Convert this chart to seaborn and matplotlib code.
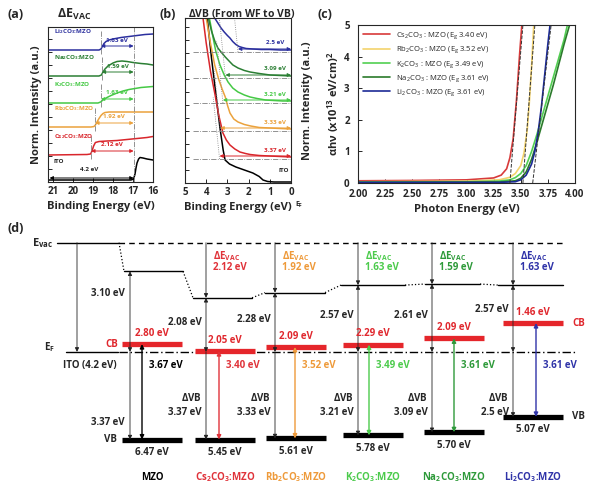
import pandas as pd
import matplotlib.pyplot as plt
import seaborn as sns

# ---------------- data ----------------
samples = ['Cs$_2$CO$_3$', 'Rb$_2$CO$_3$', 'K$_2$CO$_3$', 'Na$_2$CO$_3$', 'Li$_2$CO$_3$']
colors = ['#d9262c', '#eba23c', '#45c945', '#2b7f34', '#2b2f9e']
ito_wf = 4.2

# (a) secondary electron cut-off: binding energy (eV) / stacked intensity
a_ito_be = [21.25, 17.1, 16.97, 16.9, 16.85, 16.8, 16.72, 16.65, 16.5, 16.3, 16.0]
a_ito_int = [2, 2, 3, 8, 14, 19, 23, 24.5, 24, 23, 22]
a_cs_be = [21.25, 19.3, 19.12, 19.05, 18.97, 18.88, 18.7, 18.3, 17.8, 17.3, 16.8, 16.3, 16.0]
a_cs_int = [27, 27.5, 28, 31, 36, 39.5, 40.5, 41, 41.5, 42.5, 43.5, 44.5, 45.5]
a_rb_be = [21.25, 19.1, 18.95, 18.88, 18.8, 18.7, 18.6, 18.5, 18.4, 18.2, 17.8, 17.0, 16.0]
a_rb_int = [55, 55, 55.5, 57, 60, 63.5, 66.5, 68.5, 69.5, 70, 70, 70, 70]
a_k_be = [21.25, 18.75, 18.62, 18.5, 18.3, 18.1, 17.8, 17.5, 17.2, 16.9, 16.6, 16.3, 16.0]
a_k_int = [79, 79, 80, 82, 84.5, 86.5, 89, 91, 92.5, 93.5, 94.5, 95, 95.5]
a_na_be = [21.25, 18.7, 18.58, 18.5, 18.4, 18.25, 18.0, 17.8, 17.55, 17.3, 17.0, 16.6, 16.3, 16.0]
a_na_int = [106, 106, 107, 110, 113, 116, 119, 120.5, 121, 120.5, 119.5, 118.5, 118, 117]
a_li_be = [21.25, 18.7, 18.6, 18.52, 18.45, 18.35, 18.2, 18.0, 17.6, 17.2, 16.8, 16.4, 16.0]
a_li_int = [132, 132, 133, 136, 138.5, 140.5, 142, 143, 144.5, 145.5, 146.5, 147.5, 148]
a_dvac = [2.12, 1.92, 1.63, 1.59, 1.63]

# (b) valence band region: binding energy (eV) / stacked intensity
b_ito_be = [3.95, 3.75, 3.54, 3.35, 3.2, 3.11, 2.9, 2.6, 2.2, 1.8, 1.5, 1.32, 1.1, 0.8, 0.0]
b_ito_int = [165, 125, 88, 55, 33, 23, 19, 16, 13, 10, 6.5, 3, 1.5, 1, 1]
b_cs_be = [4.15, 4.0, 3.8, 3.58, 3.4, 3.21, 3.05, 2.88, 2.65, 2.41, 2.15, 1.93, 1.5, 1.0, 0.5, 0.0]
b_cs_int = [165, 140, 112, 88, 67, 50, 43, 38, 34, 31, 29.5, 28.5, 27.5, 27, 26.5, 26]
b_rb_be = [4.0, 3.8, 3.6, 3.4, 3.25, 3.1, 3.0, 2.88, 2.7, 2.5, 2.2, 1.9, 1.5, 1.0, 0.5, 0.0]
b_rb_int = [165, 140, 118, 103, 94, 86, 78, 70, 64, 61, 58.5, 57, 55.5, 55, 54.5, 54]
b_k_be = [3.85, 3.7, 3.55, 3.35, 3.15, 2.97, 2.75, 2.5, 2.2, 1.93, 1.6, 1.2, 0.8, 0.4, 0.0]
b_k_int = [165, 148, 132, 118, 108, 101, 95, 91, 88, 86, 84.5, 83, 82.5, 82, 82]
b_na_be = [3.9, 3.75, 3.58, 3.45, 3.3, 3.1, 2.9, 2.74, 2.5, 2.2, 1.93, 1.5, 0.99, 0.5, 0.0]
b_na_int = [165, 152, 141, 135, 131, 126, 121.5, 118, 115, 112.5, 111, 109.5, 108, 107.5, 107]
b_li_be = [3.6, 3.45, 3.3, 3.15, 3.0, 2.88, 2.75, 2.6, 2.45, 2.3, 2.12, 1.8, 1.4, 1.0, 0.5, 0.0]
b_li_int = [165, 160, 155, 151, 147.5, 145, 141.5, 138.5, 136.5, 135.5, 134.5, 134, 133.5, 133.5, 133, 133]
b_dvb = [3.37, 3.33, 3.21, 3.09, 2.5]

# (c) Tauc plot: photon energy (eV) / (alpha h nu)^2
c_cs_e = [2.0, 2.5, 3.0, 3.25, 3.32, 3.37, 3.40, 3.43, 3.46, 3.49, 3.51]
c_cs_v = [0.07, 0.08, 0.1, 0.16, 0.25, 0.45, 0.8, 1.4, 2.6, 4.1, 5.0]
c_rb_e = [2.0, 3.0, 3.3, 3.4, 3.45, 3.5, 3.53, 3.56, 3.58, 3.6, 3.62]
c_rb_v = [0.04, 0.06, 0.1, 0.18, 0.3, 0.55, 0.95, 1.7, 2.6, 3.7, 5.0]
c_k_e = [2.0, 3.0, 3.3, 3.4, 3.45, 3.5, 3.55, 3.6, 3.65, 3.7, 3.75, 3.8, 3.85, 3.9, 3.93]
c_k_v = [0.03, 0.04, 0.06, 0.1, 0.17, 0.3, 0.55, 1.0, 1.55, 2.15, 2.75, 3.35, 3.95, 4.55, 5.0]
c_na_e = [2.0, 3.3, 3.45, 3.5, 3.55, 3.6, 3.65, 3.7, 3.75, 3.8, 3.85, 3.9, 3.95]
c_na_v = [0.02, 0.03, 0.07, 0.15, 0.35, 0.75, 1.3, 1.9, 2.5, 3.1, 3.75, 4.4, 5.0]
c_li_e = [2.0, 3.3, 3.45, 3.5, 3.55, 3.6, 3.63, 3.66, 3.69, 3.72, 3.75, 3.77]
c_li_v = [0.02, 0.02, 0.04, 0.1, 0.25, 0.6, 1.0, 1.6, 2.4, 3.4, 4.4, 5.0]
c_eg = [3.40, 3.52, 3.49, 3.61, 3.61]
c_colors = ['#d83a3a', '#f3d36c', '#52cf52', '#2b7a2b', '#1c2a96']

# (d) energy level diagram (eV)
d_names = ['MZO'] + [s + ':MZO' for s in samples]
d_wf = [3.10, 2.08, 2.28, 2.57, 2.61, 2.57]
d_dvb = [3.37, 3.37, 3.33, 3.21, 3.09, 2.5]
d_eg = [3.67, 3.40, 3.52, 3.49, 3.61, 3.61]
d_vb = [6.47, 5.45, 5.61, 5.78, 5.70, 5.07]
d_cb = [2.80, 2.05, 2.09, 2.29, 2.09, 1.46]
d_colors = ['black', '#e0333a', '#ee9a3a', '#4ccb4c', '#2e9a3a', '#2f33a8']

# ---------------- style ----------------
sns.set_theme(style='ticks')
plt.rcParams['font.family'] = ['Open Sans', 'DejaVu Sans']
plt.rcParams['mathtext.default'] = 'regular'
plt.rcParams['axes.linewidth'] = 0.8

W, H = 596, 487
fig = plt.figure(figsize=(W / 100, H / 100), dpi=100)


def px_axes(x0, y0, x1, y1):
    return fig.add_axes([x0 / W, 1 - y1 / H, (x1 - x0) / W, (y1 - y0) / H])


def long_df(series):
    return pd.concat([pd.DataFrame({'x': x, 'y': y, 's': lab}) for lab, x, y in series],
                     ignore_index=True)


def style_ax(ax):
    ax.tick_params(direction='in', length=3, width=0.7, labelsize=7, pad=3)
    for lab in ax.get_xticklabels() + ax.get_yticklabels():
        lab.set_fontweight('bold')


bold = dict(fontweight='bold')

# ---------------- (a) ----------------
axa = px_axes(48, 27, 153, 182)
a_names = ['ITO'] + samples
dfa = long_df(zip(a_names,
                  [a_ito_be, a_cs_be, a_rb_be, a_k_be, a_na_be, a_li_be],
                  [a_ito_int, a_cs_int, a_rb_int, a_k_int, a_na_int, a_li_int]))
sns.lineplot(data=dfa, x='x', y='y', hue='s', hue_order=a_names,
             palette=['black'] + colors, estimator=None, sort=False,
             legend=False, lw=1.1, ax=axa)
axa.set_xlim(21.25, 16)
axa.set_ylim(0, 155)
axa.set_xticks([21, 20, 19, 18, 17, 16])
axa.set_yticks(range(0, 155, 13))
axa.tick_params(labelleft=False)
style_ax(axa)
axa.set_xlabel('Binding Energy (eV)', fontsize=8, labelpad=3, **bold)
axa.set_ylabel('Norm. Intensity (a.u.)', fontsize=8, labelpad=4, **bold)
cut = a_ito_be[2]
axa.axvline(cut, color='gray', ls='-.', lw=0.6)
axa.text(20.95, a_ito_int[0] + 17, 'ITO', fontsize=4.5, **bold)
axa.annotate('', xy=(cut, 4), xytext=(cut + ito_wf, 4),
             arrowprops=dict(arrowstyle='<|-|>', color='black', lw=0.7,
                             shrinkA=0, shrinkB=0, mutation_scale=5))
axa.text(19.2, 11, f'{ito_wf:g} eV', fontsize=4.5, ha='center', **bold)
for name, col, dv, ints in zip(samples, colors, a_dvac,
                                [a_cs_int, a_rb_int, a_k_int, a_na_int, a_li_int]):
    base = ints[0]
    on = cut + dv
    axa.plot([on, on], [base - 4, base + 20], color='gray', ls='-.', lw=0.6)
    axa.annotate('', xy=(cut, base + 4), xytext=(on, base + 4),
                 arrowprops=dict(arrowstyle='<|-|>', color=col, lw=0.7,
                                 shrinkA=0, shrinkB=0, mutation_scale=5))
    axa.text((on + cut) / 2, base + 10, f'{dv:.2f} eV', color=col, fontsize=4.5,
             ha='center', va='center', **bold)
    axa.text(20.95, base + 18, name + ':MZO', color=col, fontsize=4.5,
             va='center', **bold)

# ---------------- (b) ----------------
axb = px_axes(185, 18, 291, 183)
dfb = long_df(zip(a_names,
                  [b_ito_be, b_cs_be, b_rb_be, b_k_be, b_na_be, b_li_be],
                  [b_ito_int, b_cs_int, b_rb_int, b_k_int, b_na_int, b_li_int]))
sns.lineplot(data=dfb, x='x', y='y', hue='s', hue_order=a_names,
             palette=['black'] + colors, estimator=None, sort=False,
             legend=False, lw=1.1, ax=axb)
axb.set_xlim(5, 0)
axb.set_ylim(0, 165)
axb.set_xticks([5, 4, 3, 2, 1, 0])
axb.set_yticks(range(0, 165, 13))
axb.tick_params(labelleft=False)
style_ax(axb)
axb.set_xlabel('Binding Energy (eV)', fontsize=8, labelpad=3, **bold)
axb.yaxis.set_label_position('right')
axb.set_ylabel('Norm. Intensity (a.u.)', fontsize=8, labelpad=8, **bold)
axb.text(1.035, -0.13, 'E$_F$', transform=axb.transAxes, fontsize=5,
         va='center', **bold)
axb.text(0.1, b_ito_int[-1] + 10, 'ITO', fontsize=4.5, ha='right', **bold)
for col, dv, ints in zip(colors, b_dvb, [b_cs_int, b_rb_int, b_k_int, b_na_int, b_li_int]):
    base = ints[-1]
    axb.plot([4.6, 0], [base - 2, base - 2], color='gray', ls='-.', lw=0.6)
    axb.annotate('', xy=(0, base + 1), xytext=(dv, base + 1),
                 arrowprops=dict(arrowstyle='<|-|>', color=col, lw=0.7,
                                 shrinkA=0, shrinkB=0, mutation_scale=5))
    axb.plot([dv, dv + 0.3], [base - 2, base + 60], color='gray', ls=':', lw=0.6)
    axb.text(0.75, base + 7, f'{dv:g} eV', color=col, fontsize=4.5,
             ha='center', va='center', **bold)

# ---------------- (c) ----------------
axc = px_axes(358, 25, 575, 183)
c_labels = [f'{s} : MZO (E$_g$ {eg:.2f} eV)' for s, eg in zip(samples, c_eg)]
dfc = long_df(zip(c_labels,
                  [c_cs_e, c_rb_e, c_k_e, c_na_e, c_li_e],
                  [c_cs_v, c_rb_v, c_k_v, c_na_v, c_li_v]))
sns.lineplot(data=dfc, x='x', y='y', hue='s', hue_order=c_labels,
             palette=c_colors, estimator=None, sort=False, lw=1.2, ax=axc)
for eg, ints_e, ints_v in [(c_eg[0], c_cs_e, c_cs_v), (c_eg[1], c_rb_e, c_rb_v),
                           (c_eg[4], c_li_e, c_li_v)]:
    axc.plot([eg, ints_e[-1] + 0.01], [0, 5], color='#333333', ls='--', lw=0.7)
axc.set_xlim(2, 4)
axc.set_ylim(0, 5)
axc.set_xticks([2.0, 2.25, 2.5, 2.75, 3.0, 3.25, 3.5, 3.75, 4.0])
axc.set_xticklabels(['2.00', '2.25', '2.50', '2.75', '3.00', '3.25', '3.50', '3.75', '4.00'])
axc.set_yticks([0, 1, 2, 3, 4, 5])
style_ax(axc)
axc.tick_params(axis='y', pad=6)
axc.tick_params(axis='x', pad=4)
axc.set_xlabel('Photon Energy (eV)', fontsize=8, labelpad=3, **bold)
axc.set_ylabel(r'$\alpha$h$\nu$ (x10$^{13}$ eV/cm)$^2$', fontsize=8, labelpad=2, **bold)
leg = axc.legend(loc='upper left', frameon=False, fontsize=5.5, handlelength=3.5,
                 labelspacing=0.45, borderaxespad=0.3)
for line in leg.get_lines():
    line.set_linewidth(1.2)

# panel titles
for x, y, t in [(7, 14, '(a)'), (160, 14, '(b)'), (318, 14, '(c)'), (8, 228, '(d)')]:
    fig.text(x / W, 1 - y / H, t, fontsize=9, va='center', **bold)
fig.text(57 / W, 1 - 14 / H, r'$\Delta$E$_{VAC}$', fontsize=9, va='center', **bold)
fig.text(242 / W, 1 - 14 / H, r'$\Delta$VB (From WF to VB)', fontsize=7.5,
         va='center', ha='center', **bold)

# ---------------- (d) ----------------
y_vac_px, px_per_ev = 242.7, 26.0
axd = fig.add_axes([0, 0, 1, 262 / H])
axd.set_xlim(0, W)
axd.set_ylim(-(H - y_vac_px) / px_per_ev, (y_vac_px - 225) / px_per_ev)
axd.axis('off')

d_left = [122, 195, 266, 343, 424, 503]
vac_x0 = [124, 193, 265, 341, 425, 498]
vac_x1 = [183, 252, 325, 405, 480, 563]
d_xa = [130, 206, 275, 358, 432, 513]
d_xg = [142, 219, 295, 369, 454, 536]
ef = -ito_wf
fs = 7


def varrow(x, y0, y1, color='#222222', style='-|>', lw=0.6):
    axd.annotate('', xy=(x, y1), xytext=(x, y0),
                 arrowprops=dict(arrowstyle=style, color=color, lw=lw,
                                 shrinkA=0, shrinkB=0, mutation_scale=6))


axd.plot([57, 119], [0, 0], color='black', lw=1)
axd.plot([119, 565], [0, 0], color='black', lw=1, ls=(0, (4, 3)))
axd.plot([66, 118], [ef, ef], color='black', lw=1)
axd.plot([119, 577], [ef, ef], color='black', lw=1, ls=(0, (6, 2, 1, 2)))
varrow(77, 0, ef)
axd.text(32, 0, 'E$_{vac}$', fontsize=8, va='center', **bold)
axd.text(44, ef + 0.2, 'E$_F$', fontsize=7, va='center', **bold)
axd.text(90, -4.74, f'ITO ({ito_wf:g} eV)', fontsize=fs, ha='center', va='center', **bold)

prev = (119, 0)
for i in range(6):
    bl, col = d_left[i], d_colors[i]
    vac = -(ito_wf - d_wf[i])
    cb = vac - d_cb[i]
    vb = ef - d_dvb[i]
    xa, xg = d_xa[i], d_xg[i]
    axd.plot([prev[0], vac_x0[i]], [prev[1], vac], color='black', lw=0.9, ls=':')
    axd.plot([vac_x0[i], vac_x1[i]], [vac, vac], color='black', lw=1)
    prev = (vac_x1[i], vac)
    axd.plot([bl, bl + 60], [cb, cb], color='#e5262b', lw=3.8, solid_capstyle='butt')
    axd.plot([bl, bl + 60], [vb, vb], color='black', lw=3.8, solid_capstyle='butt')
    if i:
        varrow(xa, 0, vac)
        axd.text(xa + 7, -0.5, r'$\Delta$E$_{VAC}$', color=col, fontsize=fs,
                 va='center', **bold)
        axd.text(xa + 7, -0.97, f'{ito_wf - d_wf[i]:.2f} eV', color=col, fontsize=fs,
                 va='center', **bold)
        wf_y = (vac + ef) / 2 + (0.35 if i == 5 else 0.1)
        axd.text(xa - 4, wf_y, f'{d_wf[i]:.2f} eV', fontsize=fs,
                 ha='right', va='center', **bold)
        axd.text(xa - 4, -5.98, r'$\Delta$VB', fontsize=fs, ha='right', va='center', **bold)
        axd.text(xa - 4, -6.52, f'{d_dvb[i]:g} eV', fontsize=fs, ha='right',
                 va='center', **bold)
    else:
        axd.text(xa - 5, vac - 0.85, f'{d_wf[i]:.2f} eV', fontsize=fs,
                 ha='right', va='center', **bold)
        axd.text(xa - 5, -6.9, f'{d_dvb[i]:g} eV', fontsize=fs, ha='right',
                 va='center', **bold)
    varrow(xa, vac, ef, style='<|-|>')
    varrow(xa, ef, vb)
    varrow(xg, cb, vb, color=col, style='<|-|>', lw=1.0)
    axd.text(bl + 30, cb + 0.42, f'{d_cb[i]:.2f} eV', color='#e0282e', fontsize=fs,
             ha='center', va='center', **bold)
    axd.text(bl + 30, vb - 0.5, f'{d_vb[i]:.2f} eV', fontsize=fs,
             ha='center', va='center', **bold)
    axd.text(xg + 7, -4.74, f'{d_eg[i]:.2f} eV', color=col, fontsize=fs,
             va='center', **bold)
    axd.text(bl + 30, -9.02, d_names[i], color=col, fontsize=fs,
             ha='center', va='center', **bold)

mzo_cb = -(ito_wf - d_wf[0]) - d_cb[0]
li_cb = -(ito_wf - d_wf[5]) - d_cb[5]
axd.text(118, mzo_cb, 'CB', color='#e0282e', fontsize=fs, ha='right', va='center', **bold)
axd.text(117, ef - d_dvb[0], 'VB', fontsize=fs, ha='right', va='center', **bold)
axd.text(572, li_cb, 'CB', color='#e0282e', fontsize=fs, va='center', **bold)
axd.text(572, ef - d_dvb[5], 'VB', fontsize=fs, va='center', **bold)

plt.savefig('out.png', dpi=100)
